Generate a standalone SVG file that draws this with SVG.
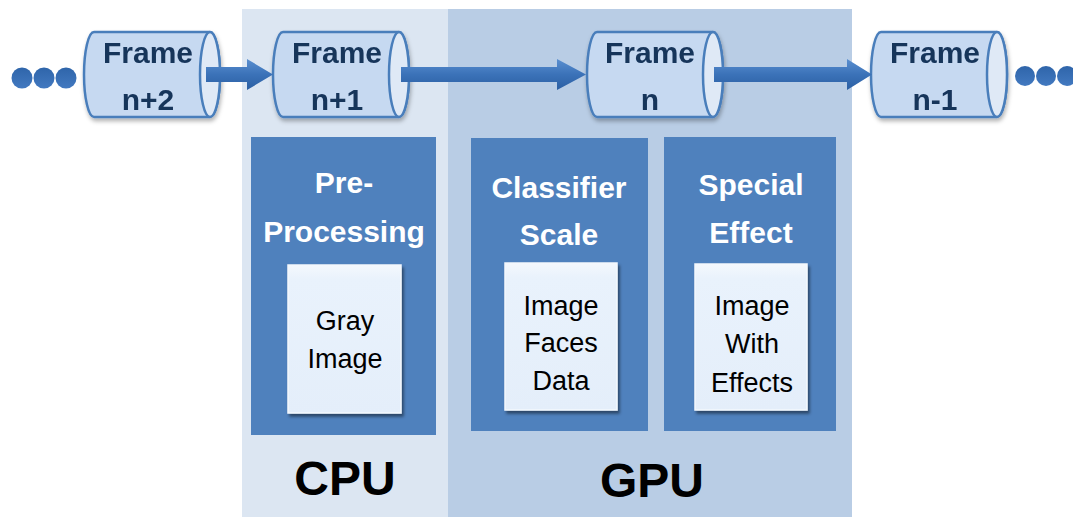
<svg xmlns="http://www.w3.org/2000/svg" width="1073" height="517" viewBox="0 0 1073 517">
<style>
.panel-cpu{fill:#dce6f2}
.panel-gpu{fill:#b9cde5}
.stage{fill:#4f81bd}
.inner{fill:url(#innerGrad);stroke:#f4f8fd;stroke-width:1.5;filter:url(#shadow)}
.cyl{fill:#c6d9f1;stroke:#4a7ebb;stroke-width:2.5}
.cap{fill:#dfe9f6;stroke:#4a7ebb;stroke-width:2.5}
.ftxt{font-family:"Liberation Sans",Arial,sans-serif;font-weight:bold;font-size:30px;fill:#17345a;text-anchor:middle}
.ttl{font-family:"Liberation Sans",Arial,sans-serif;font-weight:bold;font-size:30px;fill:#ffffff;text-anchor:middle}
.lbl{font-family:"Liberation Sans",Arial,sans-serif;font-size:27px;fill:#000;text-anchor:middle}
.big{font-family:"Liberation Sans",Arial,sans-serif;font-weight:bold;font-size:48px;fill:#000;text-anchor:middle}
.arrow{fill:url(#arrowGrad)}
.dot{fill:url(#dotGrad)}
</style>
<defs>
<linearGradient id="arrowGrad" x1="0" y1="0" x2="0" y2="1">
<stop offset="0" stop-color="#5a8fd0"/>
<stop offset="0.5" stop-color="#3b72b8"/>
<stop offset="1" stop-color="#2b5fa3"/>
</linearGradient>
<linearGradient id="dotGrad" x1="0" y1="0" x2="0" y2="1">
<stop offset="0" stop-color="#2f65aa"/>
<stop offset="1" stop-color="#4279c0"/>
</linearGradient>
<linearGradient id="innerGrad" x1="0" y1="0" x2="0" y2="1">
<stop offset="0" stop-color="#f4f8fd"/>
<stop offset="0.1" stop-color="#e9f2fc"/>
<stop offset="1" stop-color="#e4eefa"/>
</linearGradient>
<filter id="shadow" x="-10%" y="-10%" width="130%" height="130%">
<feDropShadow dx="2" dy="3" stdDeviation="1.5" flood-color="#000" flood-opacity="0.45"/>
</filter>
<filter id="cshadow" x="-10%" y="-10%" width="130%" height="130%">
<feDropShadow dx="1" dy="3" stdDeviation="2" flood-color="#000" flood-opacity="0.3"/>
</filter>
</defs>

<g id="cpu-panel">
<rect class="panel-cpu" x="242" y="9" width="206" height="508"/>
<text class="big" x="345" y="495">CPU</text>
</g>
<g id="gpu-panel">
<rect class="panel-gpu" x="448" y="9" width="404" height="508"/>
<text class="big" x="652" y="497">GPU</text>
</g>

<g id="pre-processing">
<rect class="stage" x="251" y="137" width="185" height="298"/>
<text class="ttl" x="344" y="193">Pre-</text>
<text class="ttl" x="344" y="242">Processing</text>
</g>
<g id="gray-image">
<rect class="inner" x="288" y="265" width="113" height="148"/>
<text class="lbl" x="345" y="330">Gray</text>
<text class="lbl" x="345" y="368">Image</text>
</g>

<g id="classifier-scale">
<rect class="stage" x="471" y="138" width="177" height="293"/>
<text class="ttl" x="559" y="198">Classifier</text>
<text class="ttl" x="559" y="245">Scale</text>
</g>
<g id="image-faces-data">
<rect class="inner" x="505" y="263" width="112" height="147"/>
<text class="lbl" x="561" y="315">Image</text>
<text class="lbl" x="561" y="352">Faces</text>
<text class="lbl" x="561" y="390">Data</text>
</g>

<g id="special-effect">
<rect class="stage" x="664" y="137" width="172" height="294"/>
<text class="ttl" x="751" y="195">Special</text>
<text class="ttl" x="751" y="243">Effect</text>
</g>
<g id="image-with-effects">
<rect class="inner" x="695" y="264" width="112" height="146"/>
<text class="lbl" x="752" y="315">Image</text>
<text class="lbl" x="752" y="353">With</text>
<text class="lbl" x="752" y="392">Effects</text>
</g>

<g id="frame-n2" filter="url(#cshadow)">
<path class="cyl" d="M94,32 L210,32 A10,42.5 0 0 1 210,117 L94,117 A10,42.5 0 0 1 94,32 Z"/>
<ellipse class="cap" cx="210" cy="74.5" rx="10" ry="42.5"/>
<text class="ftxt" x="148" y="63">Frame</text>
<text class="ftxt" x="148" y="110">n+2</text>
</g>
<g id="frame-n1" filter="url(#cshadow)">
<path class="cyl" d="M283,32 L399,32 A10,42.5 0 0 1 399,117 L283,117 A10,42.5 0 0 1 283,32 Z"/>
<ellipse class="cap" cx="399" cy="74.5" rx="10" ry="42.5"/>
<text class="ftxt" x="337" y="63">Frame</text>
<text class="ftxt" x="337" y="110">n+1</text>
</g>
<g id="frame-n" filter="url(#cshadow)">
<path class="cyl" d="M597,32 L713,32 A10,42.5 0 0 1 713,117 L597,117 A10,42.5 0 0 1 597,32 Z"/>
<ellipse class="cap" cx="713" cy="74.5" rx="10" ry="42.5"/>
<text class="ftxt" x="650" y="63">Frame</text>
<text class="ftxt" x="650" y="110">n</text>
</g>
<g id="frame-n-1" filter="url(#cshadow)">
<path class="cyl" d="M881,32 L997,32 A10,42.5 0 0 1 997,117 L881,117 A10,42.5 0 0 1 881,32 Z"/>
<ellipse class="cap" cx="997" cy="74.5" rx="10" ry="42.5"/>
<text class="ftxt" x="935" y="63">Frame</text>
<text class="ftxt" x="935" y="110">n-1</text>
</g>

<g id="dots-left">
<circle class="dot" cx="22" cy="78" r="10.5"/>
<circle class="dot" cx="44" cy="78" r="10.5"/>
<circle class="dot" cx="66" cy="78" r="10.5"/>
</g>
<g id="dots-right">
<circle class="dot" cx="1025" cy="76" r="10"/>
<circle class="dot" cx="1046" cy="76" r="10"/>
<circle class="dot" cx="1067" cy="76" r="10"/>
</g>

<g id="connectors">
<polygon class="arrow" points="206,67 247,67 247,59 273,74.5 247,90 247,82 206,82"/>
<polygon class="arrow" points="401,67 557,67 557,59 586,74.5 557,90 557,82 401,82"/>
<polygon class="arrow" points="714,67 847,67 847,59 872,74.5 847,90 847,82 714,82"/>
</g>
</svg>
